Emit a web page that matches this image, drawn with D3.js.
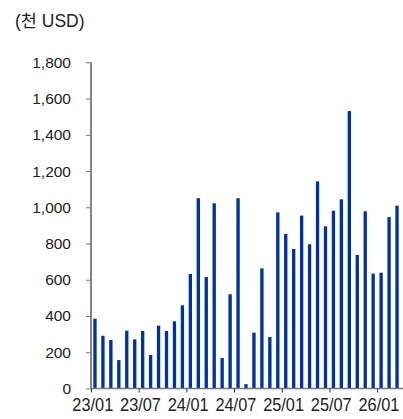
<!DOCTYPE html>
<html>
<head>
<meta charset="utf-8">
<script src="https://cdn.jsdelivr.net/npm/d3@7"></script>
<style>
  html, body { margin: 0; padding: 0; background: #fff; }
  svg { display: block; }
  .ylab text { font-family: "Liberation Sans", Arial, sans-serif; font-size: 15.5px; fill: #222; }
  .xlab text { font-family: "Liberation Sans", Arial, sans-serif; font-size: 19px; fill: #222; }
</style>
</head>
<body>
<svg id="chart" width="403" height="419"></svg>
<script>
// monthly values, 천 USD
const months = ['23/01','23/02','23/03','23/04','23/05','23/06','23/07','23/08','23/09','23/10','23/11','23/12',
                '24/01','24/02','24/03','24/04','24/05','24/06','24/07','24/08','24/09','24/10','24/11','24/12',
                '25/01','25/02','25/03','25/04','25/05','25/06','25/07','25/08','25/09','25/10','25/11','25/12',
                '26/01','26/02','26/03'];
const values = [385, 291, 268, 157, 319, 271, 317, 185, 347, 317, 371, 459,
                632, 1050, 615, 1022, 168, 520, 1050, 24, 308, 663, 284, 972,
                853, 770, 954, 796, 1143, 895, 981, 1044, 1531, 737, 978, 634,
                639, 946, 1009];
const yTicks = [0, 200, 400, 600, 800, 1000, 1200, 1400, 1600, 1800];
const xTickIdx = [0, 6, 12, 18, 24, 30, 36];
const unitLabel = '(천 USD)';

const svg = d3.select('#chart');
const mLeft = 91, mRight = 401, mTop = 62.3, mBase = 388.5;

const y = d3.scaleLinear().domain([0, 1800]).range([mBase, mTop]);
const x = d3.scaleBand().domain(months).range([mLeft, mRight]).paddingInner(0.58).paddingOuter(0.29);
// month index -> left edge of month slot, for the date ticks
const xi = d3.scaleLinear().domain([0, months.length]).range([mLeft, mRight]);

// bars
svg.append('g').selectAll('rect')
  .data(values)
  .enter()
  .append('rect')
  .attr('x', (d,i)=>x(months[i]))
  .attr('width', x.bandwidth())
  .attr('y', d=>y(d))
  .attr('height', d=>mBase - y(d))
  .attr('fill', '#0033a1');

// y axis
const gy = svg.append('g').attr('class','ylab')
  .attr('transform', `translate(${mLeft},0)`)
  .call(d3.axisLeft(y).tickValues(yTicks).tickSize(5).tickPadding(15).tickFormat(d3.format(',')));
gy.select('.domain').attr('stroke','#333').attr('stroke-width',1.2).attr('d', `M0,${mTop}V${mBase}`);
gy.selectAll('.tick line').attr('stroke','#777');

// x axis, labels squeezed sideways to look like the narrow face in the original
const gx = svg.append('g').attr('class','xlab')
  .attr('transform', `translate(0,${mBase})`)
  .call(d3.axisBottom(xi).tickValues(xTickIdx).tickSize(4).tickPadding(5).tickFormat(i=>months[i]));
gx.select('.domain').attr('stroke','#777').attr('stroke-width',1.5).attr('d', `M${mLeft},0H403`);
gx.selectAll('.tick line').attr('stroke','#333');
gx.selectAll('.tick text')
  .attr('x', 1.5)
  .attr('transform', 'scale(0.86,1)');

// unit label
svg.append('text')
  .attr('x', 15).attr('y', 27)
  .attr('font-family', '"Liberation Sans", "Noto Sans CJK KR", sans-serif')
  .attr('font-size', 17.5)
  .attr('fill', '#222')
  .text(unitLabel);
</script>
</body>
</html>
